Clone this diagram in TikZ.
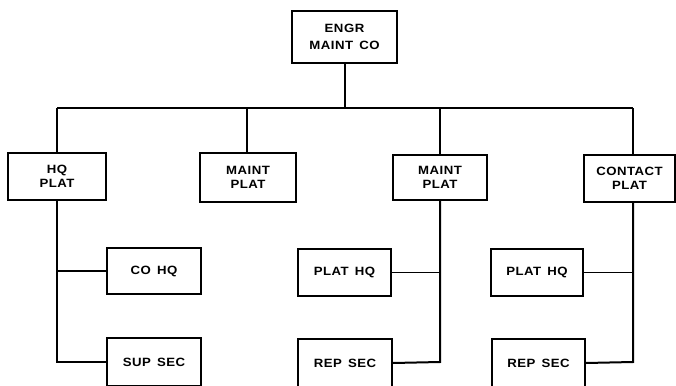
\documentclass[tikz,border=0pt]{standalone}
\usepackage{fontspec}
\setmainfont{Liberation Sans}[FakeStretch=1.1,LetterSpace=4,WordSpace=1.5]
\begin{document}
\begin{tikzpicture}[x=1pt,y=-1pt,
  box/.style={draw,line width=1.9pt,rectangle,inner sep=0pt,align=center,
    font=\fontsize{12}{13.5}\selectfont\bfseries},
  conn/.style={line width=2pt},
  thin/.style={line width=1.3pt}]
\useasboundingbox (0,0) rectangle (676,385);
\clip (0,0) rectangle (676,385);
% nodes
\node[box,minimum width=105pt,minimum height=52pt] (top) at (344.5,37) {ENGR\\[4pt]MAINT CO};
\node[box,minimum width=98pt,minimum height=47pt] (hq) at (57,176.5) {HQ\\PLAT};
\node[box,minimum width=96pt,minimum height=49pt] (mp1) at (248,177.5) {MAINT\\PLAT};
\node[box,minimum width=94pt,minimum height=45pt] (mp2) at (440,177.5) {MAINT\\PLAT};
\node[box,minimum width=91pt,minimum height=47pt] (cp) at (629.5,178.5) {CONTACT\\PLAT};
\node[box,minimum width=94pt,minimum height=46pt] (cohq) at (154,271) {CO HQ};
\node[box,minimum width=94pt,minimum height=48pt] (sup) at (154,362) {SUP SEC};
\node[box,minimum width=93pt,minimum height=47pt] (phq1) at (344.5,272.5) {PLAT HQ};
\node[box,minimum width=94pt,minimum height=48pt] (rep1) at (345,363) {REP SEC};
\node[box,minimum width=92pt,minimum height=47pt] (phq2) at (537,272.5) {PLAT HQ};
\node[box,minimum width=93pt,minimum height=48pt] (rep2) at (538.5,363) {REP SEC};
% bus coordinates
\coordinate (b0) at (57,108);
\coordinate (b1) at (247,108);
\coordinate (bt) at (344.5,108);
\coordinate (b2) at (440,108);
\coordinate (b3) at (633,108);
\coordinate (l0) at (57,362);
\coordinate (l2) at (440,362);
\coordinate (l3) at (633,362);
% connectors
\draw[conn] (top.south) -- (bt);
\draw[conn] (b0) -- (b3);
\draw[conn] (b0) -- (hq.north);
\draw[conn] (b1) -- (b1 |- mp1.north);
\draw[conn] (b2) -- (mp2.north);
\draw[conn] (b3) -- (b3 |- cp.north);
\draw[conn] (hq.south) -- (l0) -- (sup.west);
\draw[conn] (l0 |- cohq.west) -- (cohq.west);
\draw[conn] (mp2.south) -- (l2) -- (rep1.east);
\draw[thin] (l2 |- phq1.east) -- (phq1.east);
\draw[conn] (b3 |- cp.south) -- (l3) -- (rep2.east);
\draw[thin] (l3 |- phq2.east) -- (phq2.east);
\end{tikzpicture}
\end{document}
